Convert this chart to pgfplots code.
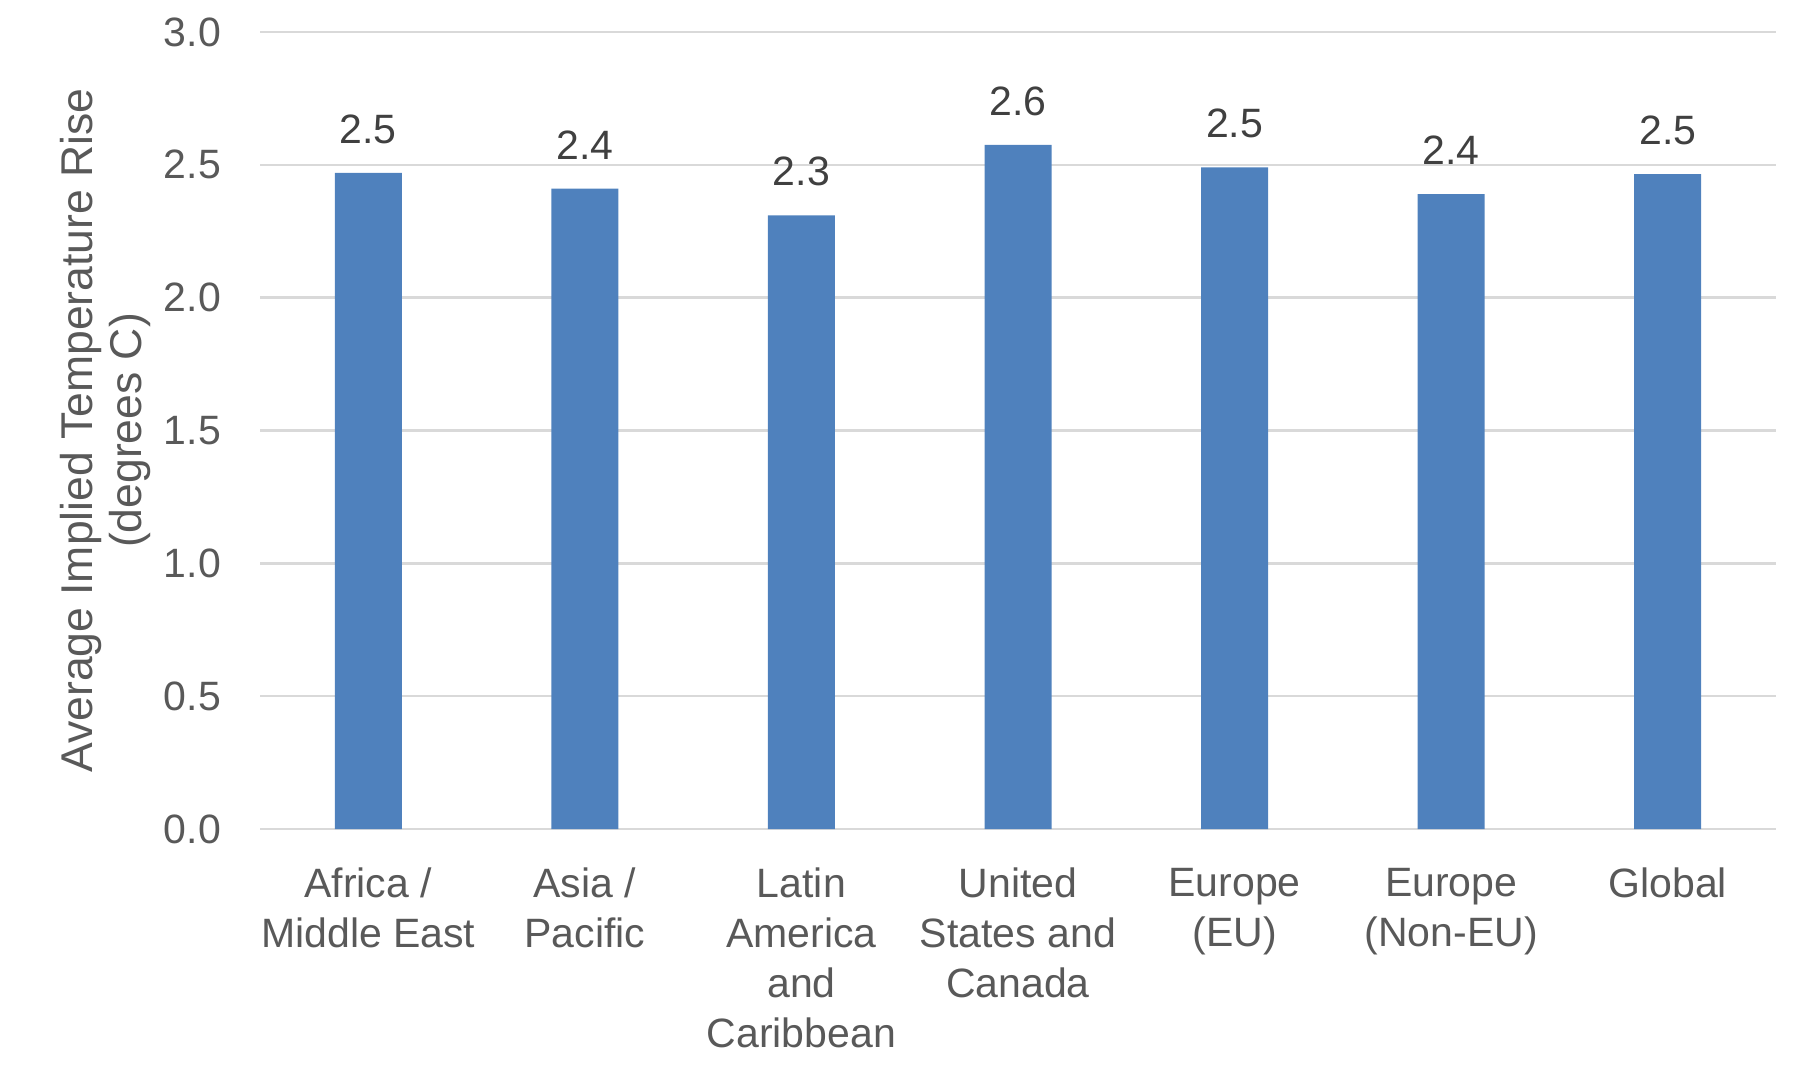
\documentclass[border=0pt]{standalone}
\usepackage{pgfplots}
\pgfplotsset{compat=1.18}
\usepackage{fontspec}
\setmainfont{Liberation Sans}
\definecolor{barblue}{HTML}{4F81BD}
\definecolor{txtgrey}{HTML}{595959}
\definecolor{lblgrey}{HTML}{404040}
\definecolor{gridgrey}{HTML}{D9D9D9}
\begin{document}
\fontsize{16.4}{19.9}\selectfont
\begin{tikzpicture}
\useasboundingbox (0,0) rectangle (724.4pt,428.4pt);
\begin{axis}[
  at={(104pt,96.8pt)}, anchor=south west,
  scale only axis, width=606.4pt, height=318.8pt,
  xmin=-0.5, xmax=6.5, ymin=0, ymax=3,
  ytick={0,0.5,...,3.0},
  /pgf/number format/assume math mode=true,
  /pgf/number format/fixed,
  /pgf/number format/fixed zerofill,
  /pgf/number format/precision=1,
  xtick={0,...,6},
  xticklabels={{Africa /\\Middle East},{Asia /\\Pacific},{Latin\\America\\and\\Caribbean},{United\\States and\\Canada},{Europe\\(EU)},{Europe\\(Non-EU)},{Global}},
  xticklabel style={align=center, text=txtgrey, font=\fontsize{16.4}{19.9}\selectfont, yshift=-10pt},
  yticklabel style={text=txtgrey, font=\fontsize{16.4}{19.9}\selectfont, xshift=-10pt},
  major tick length=0pt,
  axis line style={draw=none},
  ymajorgrids, grid style={gridgrey, line width=1pt},
  ylabel={Average Implied Temperature Rise\\(degrees C)},
  ylabel style={align=center, text=txtgrey, font=\fontsize{17.8}{19.9}\selectfont, yshift=-6pt},
  ybar, bar width=26.8pt,
  nodes near coords,
  nodes near coords style={text=lblgrey, font=\fontsize{16.4}{19.9}\selectfont, yshift=6pt},
  clip=false,
]
\addplot[fill=barblue, draw=none] coordinates {(0,2.47) (1,2.41) (2,2.31) (3,2.575) (4,2.49) (5,2.39) (6,2.465)};
\end{axis}
\end{tikzpicture}
\end{document}
